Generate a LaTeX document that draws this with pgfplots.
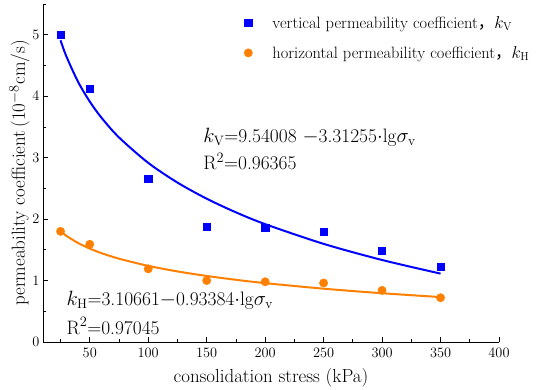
\documentclass[border=0pt]{standalone}
\usepackage{pgfplots}
\pgfplotsset{compat=1.18}
\usepackage{fontspec}
\newfontfamily\cjk{Noto Sans CJK SC}
\definecolor{vblue}{RGB}{0,0,255}
\definecolor{horange}{RGB}{255,128,0}
\pgfplotstableread{
x y
25 5.00
50 4.12
100 2.66
150 1.88
200 1.86
250 1.80
300 1.48
350 1.23
}\vdata
\pgfplotstableread{
x y
25 1.80
50 1.59
100 1.19
150 1.00
200 0.98
250 0.96
300 0.84
350 0.72
}\hdata
\begin{document}
\begin{tikzpicture}
\begin{axis}[
 scale only axis, width=456bp, height=338bp,
 xmin=10, xmax=400, ymin=0, ymax=5.5,
 axis x line*=bottom, axis y line*=left,
 axis line style={line width=0.8pt,-},
 xtick={50,100,...,400}, ytick={0,1,...,5},
 minor xtick={25,75,...,375}, minor ytick={0.5,1.5,...,5.5},
 tick align=inside, major tick length=5pt, minor tick length=3pt,
 every tick/.style={black, line width=0.8pt},
 ticklabel style={font=\fontsize{14.5}{16}\selectfont},
 xticklabel style={yshift=-3pt},
 label style={font=\fontsize{19}{22}\selectfont},
 xlabel={consolidation stress (kPa)},
 ylabel={permeability coefficient\,(10$^{-8}$cm/s)},
 xlabel style={yshift=-4pt},
 ylabel style={yshift=-4pt},
 legend style={draw=none, fill=none, at={(rel axis cs:0.434,0.976)}, anchor=north west,
   font=\fontsize{16.5}{18}\selectfont, row sep=12.5pt,
   /tikz/every odd column/.append style={column sep=18bp}},
 legend cell align=left,
 clip=false,
]
\addplot[only marks, mark=square*, mark size=3.6pt, color=vblue] table {\vdata};
\addlegendentry{vertical permeability coefficient{\cjk ，}$k_{\mathrm{V}}$}
\addplot[only marks, mark=*, mark size=4.2pt, color=horange] table {\hdata};
\addlegendentry{horizontal permeability coefficient{\cjk ，}$k_{\mathrm{H}}$}
\addplot[vblue, line width=2pt, smooth, forget plot] coordinates {
(25,4.9093)(30,4.6471)(40,4.2332)(50,3.9122)(60,3.6499)(75,3.3289)(100,2.9150)(125,2.5940)(150,2.3317)(175,2.1099)(200,1.9178)(250,1.5968)(300,1.3345)(350,1.1127)};
\addplot[horange, line width=2pt, smooth, forget plot] coordinates {
(25,1.8012)(30,1.7272)(40,1.6106)(50,1.5201)(60,1.4461)(75,1.3556)(100,1.2389)(125,1.1484)(150,1.0745)(175,1.0120)(200,0.9578)(250,0.8673)(300,0.7934)(350,0.7309)};
\node[anchor=west, inner sep=0pt, font=\fontsize{19.5}{21}\selectfont] at (axis cs:147,3.33) {$k_{\mathrm{V}}$=9.54008 $-$3.31255$\cdot$lg$\sigma_{\mathrm{v}}$};
\node[anchor=west, inner sep=0pt, font=\fontsize{19.5}{21}\selectfont] at (axis cs:147,2.94) {R$^2$=0.96365};
\node[anchor=west, inner sep=0pt, font=\fontsize{19.5}{21}\selectfont] at (axis cs:30,0.68) {$k_{\mathrm{H}}$=3.10661$-$0.93384$\cdot$lg$\sigma_{\mathrm{v}}$};
\node[anchor=west, inner sep=0pt, font=\fontsize{19.5}{21}\selectfont] at (axis cs:30,0.26) {R$^2$=0.97045};
\coordinate (bl) at (rel axis cs:0,0);
\coordinate (tr) at (rel axis cs:1,1);
\end{axis}
\pgfresetboundingbox
\path[use as bounding box] (bl) ++(-43bp,-48bp) rectangle ([shift={(51bp,4bp)}]tr);
\end{tikzpicture}
\end{document}
